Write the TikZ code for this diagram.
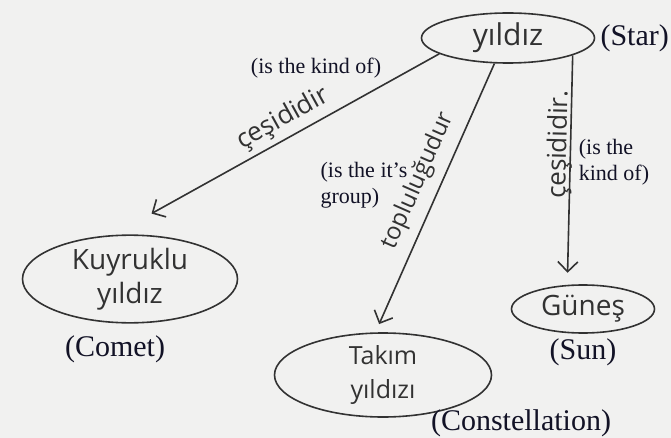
\documentclass[tikz,border=0pt]{standalone}
\usepackage{fontspec}
\usepackage{xcolor}
\setmainfont{Liberation Serif}
\newfontfamily\handfont{Open Sans}
\usetikzlibrary{shapes.geometric, arrows.meta, positioning}

\definecolor{pencil}{RGB}{50,50,50}
\definecolor{paper}{RGB}{241,241,240}
\definecolor{inkblue}{RGB}{18,18,38}

\begin{document}
\begin{tikzpicture}[x=1pt, y=-1pt,
    concept/.style={draw=pencil, line width=1.6pt, ellipse, inner sep=0pt, align=center, text=pencil, font=\handfont\fontsize{28}{34}\selectfont},
    gloss/.style={inner sep=0pt, text=inkblue, font=\fontsize{30}{32}\selectfont},
    note/.style={inner sep=0pt, text=inkblue, align=left, font=\fontsize{22}{26}\selectfont},
    link/.style={draw=pencil, line width=1.6pt, -{Straight Barb[length=10pt, width=20pt]}},
    linklabel/.style={sloped, above, inner sep=1pt, text=pencil, font=\handfont\fontsize{26}{28}\selectfont}
]
% paper
\fill[paper] (0,0) rectangle (671,438);
\useasboundingbox (0,0) rectangle (671,438);

% concepts (hand written)
\node[concept, minimum width=173pt, minimum height=50pt, font=\handfont\fontsize{30}{34}\selectfont] (yildiz) at (508,38) {yıldız};
\node[concept, minimum width=215pt, minimum height=78pt] (kuyruklu) at (130,279) {Kuyruklu\\yıldız};
\node[concept, minimum width=217pt, minimum height=84pt, font=\handfont\fontsize{25}{34}\selectfont] (takim) at (383,375) {Takım\\yıldızı};
\node[concept, minimum width=143pt, minimum height=48pt] (gunes) at (583,309) {Güneş};

% english glosses
\node[gloss, right=5pt of yildiz] (star) {(Star)};
\node[gloss, below=12pt of kuyruklu, xshift=-15pt] (comet) {(Comet)};
\node[gloss, below=5pt of gunes] (sun) {(Sun)};
\node[gloss] (constellation) at (521,423) {(Constellation)};

% links
\draw[link, shorten >=44pt] (yildiz.193) -- node[linklabel, pos=0.45, outer sep=5pt] (l1) {çeşididir} (kuyruklu.111);
\draw[link, shorten >=9pt] (yildiz.242) -- node[linklabel, pos=0.47, outer sep=9pt, font=\handfont\fontsize{24}{26}\selectfont] (l2) {topluluğudur} (takim.100);
\draw[link, shorten >=12pt] (yildiz.345) -- node[linklabel, pos=0.39, outer sep=-3pt] (l3) {çeşididir.} (gunes.123);

% link notes
\node[note] (kindnote) at (316,68) {(is the kind of)};
\node[note] (groupnote) at (364,185) {(is the it's\\group)};
\node[note] (sunnote) at (614,162) {(is the\\kind of)};

\end{tikzpicture}
\end{document}
